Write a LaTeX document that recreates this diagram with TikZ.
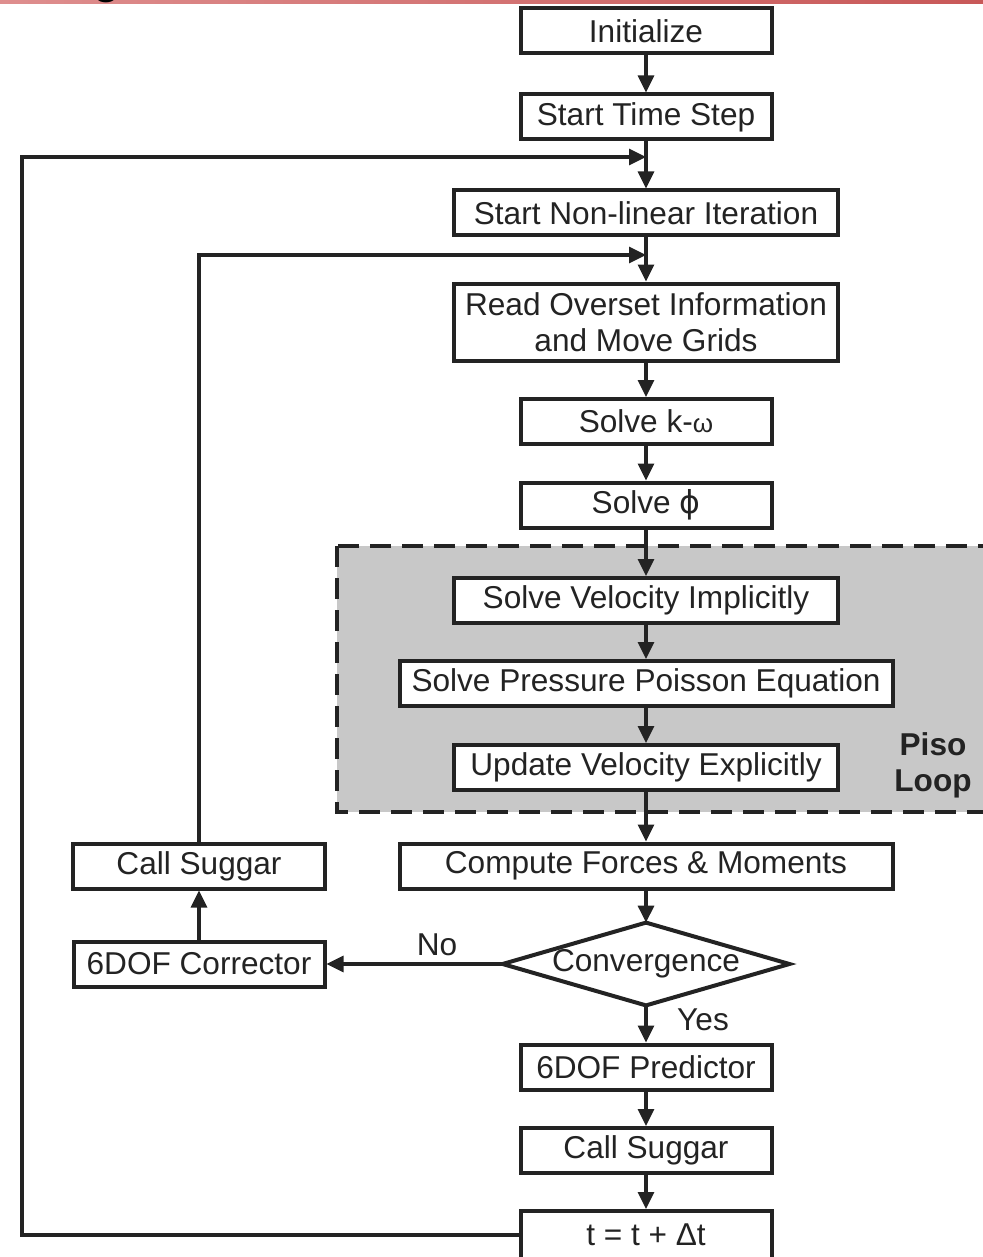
\documentclass[tikz,border=0pt]{standalone}
\usepackage{fontspec}
\setmainfont{Liberation Sans}
\newfontfamily\dejavu{DejaVu Sans}
\usetikzlibrary{arrows.meta}
\definecolor{ink}{RGB}{35,35,35}
\definecolor{pisogray}{RGB}{200,200,200}
\definecolor{barl}{RGB}{222,142,142}
\definecolor{barr}{RGB}{200,88,88}
\begin{document}
\begin{tikzpicture}[x=0.5pt,y=-0.5pt,
  every node/.style={font=\fontsize{15.8pt}{18pt}\selectfont, text=ink},
  box/.style={draw=ink, line width=2pt, fill=white, inner sep=0pt, minimum height=22.5pt, align=center},
  narrow/.style={box, minimum width=125.5pt},
  wide/.style={box, minimum width=192pt},
  wider/.style={box, minimum width=246.5pt},
  conn/.style={draw=ink, line width=1.6pt, -{Triangle[length=8.5pt,width=8pt]}},
  lbl/.style={inner sep=0pt}
  ]
\useasboundingbox (0,0) rectangle (983,1257);
% top bar with clipped title fragment
\shade[left color=barl, right color=barr] (0,0) rectangle (983,3.5);
\begin{scope}
  \clip (0,0) rectangle (983,4);
  \node[anchor=base, inner sep=0pt, text=black, font=\fontsize{22pt}{22pt}\selectfont\bfseries] (gfrag) at (107,-6) {g};
\end{scope}
% Piso loop region
\draw[fill=pisogray, draw=ink, line width=2pt, dash pattern=on 10.5pt off 5.5pt] (337,546) rectangle (1010,812);
\node[lbl, font=\fontsize{15.8pt}{18pt}\selectfont\bfseries, align=center] (piso) at (933,765) {Piso\\Loop};
% main column
\node[narrow] (init) at (646,31) {Initialize};
\node[narrow] (sts) at (646,117) {Start Time Step};
\node[wide] (snl) at (646,213) {Start Non-linear Iteration};
\node[wide, minimum height=38.5pt] (rog) at (646,322) {Read Overset Information\\and Move Grids};
\node[narrow] (ko) at (646,421.5) {Solve k-{\fontsize{13pt}{18pt}\selectfont ω}};
\node[narrow] (phi) at (646,505) {Solve {\dejavu ϕ}};
\node[wide] (svi) at (646,600.5) {Solve Velocity Implicitly};
\node[wider] (ppe) at (646,683.5) {Solve Pressure Poisson Equation};
\node[wide] (uve) at (646,767.5) {Update Velocity Explicitly};
\node[wider] (cfm) at (646,866) {Compute Forces \& Moments};
\node[inner sep=0pt, minimum width=143pt, minimum height=41pt] (conv) at (646,964) {Convergence};
\draw[draw=ink, line width=2pt, line join=miter] (conv.north) -- (conv.east) -- (conv.south) -- (conv.west) -- cycle;
\node[narrow] (pred) at (646,1067) {6DOF Predictor};
\node[narrow] (cs2) at (646,1150.5) {Call Suggar};
\node[narrow, minimum height=24pt] (tt) at (646,1235) {t = t + Δt};
% left column
\node[box, minimum width=125.5pt] (corr) at (199,964) {6DOF Corrector};
\node[box, minimum width=126pt] (cs1) at (199,866) {Call Suggar};
% labels
\node[lbl] (no) at (437,945) {No};
\node[lbl] (yes) at (703,1020) {Yes};
% junction coordinates
\coordinate (j1) at (646,157);
\coordinate (j2) at (646,255);
\coordinate (l1a) at (22,1235);
\coordinate (l1b) at (22,157);
\coordinate (l2) at (199,255);
% connectors
\draw[conn] (init) -- (sts);
\draw[conn] (sts) -- (snl);
\draw[conn] (snl) -- (rog);
\draw[conn] (rog) -- (ko);
\draw[conn] (ko) -- (phi);
\draw[conn] (phi) -- (svi);
\draw[conn] (svi) -- (ppe);
\draw[conn] (ppe) -- (uve);
\draw[conn] (uve) -- (cfm);
\draw[conn] (cfm) -- (conv.north);
\draw[conn] (conv.south) -- (pred);
\draw[conn] (pred) -- (cs2);
\draw[conn] (cs2) -- (tt);
\draw[conn] (conv.west) -- (corr.east);
\draw[conn] (corr) -- (cs1);
\draw[conn] (cs1.north) -- (l2) -- (j2);
\draw[conn] (tt.west) -- (l1a) -- (l1b) -- (j1);
\end{tikzpicture}
\end{document}
